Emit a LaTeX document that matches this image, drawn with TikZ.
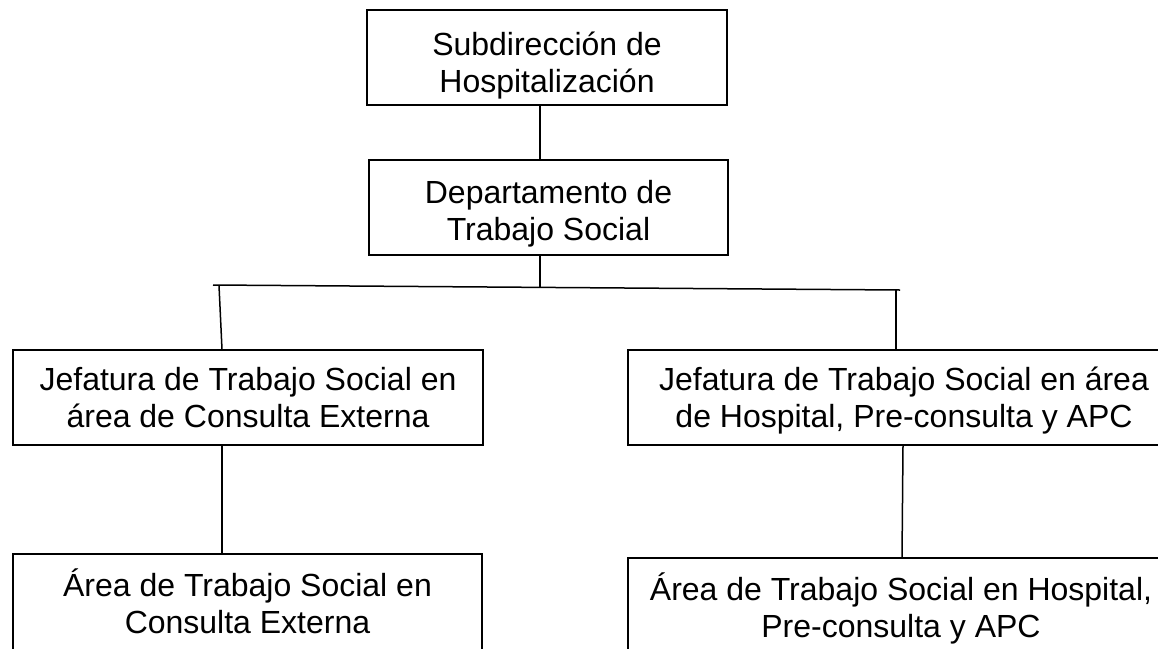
\documentclass[tikz,border=0pt]{standalone}
\usepackage{fontspec}
\setmainfont{Liberation Sans}
\begin{document}
\begin{tikzpicture}[x=1pt,y=-1pt,
  box/.style={draw, line width=1.5pt, inner sep=0pt, align=center,
    font=\fontsize{32}{37}\selectfont},
  conn/.style={line width=1.5pt}]
\clip (0,0) rectangle (1158,648);
\fill[white] (0,0) rectangle (1158,648);
\node[box, minimum width=360pt, minimum height=95pt] (b1) at (547,57.5) {\rule{0pt}{39pt}Subdirección de\\Hospitalización};
\node[box, minimum width=359pt, minimum height=95pt] (b2) at (548.5,207.5) {\rule{0pt}{35pt}Departamento de\\Trabajo Social};
\node[box, minimum width=470pt, minimum height=95pt] (b3) at (248,397.5) {Jefatura de Trabajo Social en\\área de Consulta Externa};
\node[box, minimum width=552pt, minimum height=95pt] (b4) at (904,397.5) {\rule{0pt}{29pt}Jefatura de Trabajo Social en área\\de Hospital, Pre-consulta y APC};
\node[box, minimum width=469pt, minimum height=100pt] (b5) at (247.5,604) {Área de Trabajo Social en\\Consulta Externa\rule[-6pt]{0pt}{1pt}};
\node[box, minimum width=546pt, minimum height=100pt] (b6) at (901,608) {Área de Trabajo Social en Hospital,\\Pre-consulta y APC};
\coordinate (hl) at (213,285);
\coordinate (hr) at (900,290);
\coordinate (hm) at (540,287.4);
\coordinate (jl) at (219,285.5);
\coordinate (jr) at (896,290);
\draw[conn] (b1.south -| 540,0) -- (b2.north -| 540,0);
\draw[conn] (b2.south -| hm) -- (hm);
\draw[conn] (hl) -- (hr);
\draw[conn] (jl) -- (b3.north -| 222,0);
\draw[conn] (jr) -- (b4.north -| jr);
\draw[conn] (b3.south -| 222,0) -- (b5.north -| 222,0);
\draw[conn] (b4.south -| 903,0) -- (b6.north -| 902,0);
\end{tikzpicture}
\end{document}
